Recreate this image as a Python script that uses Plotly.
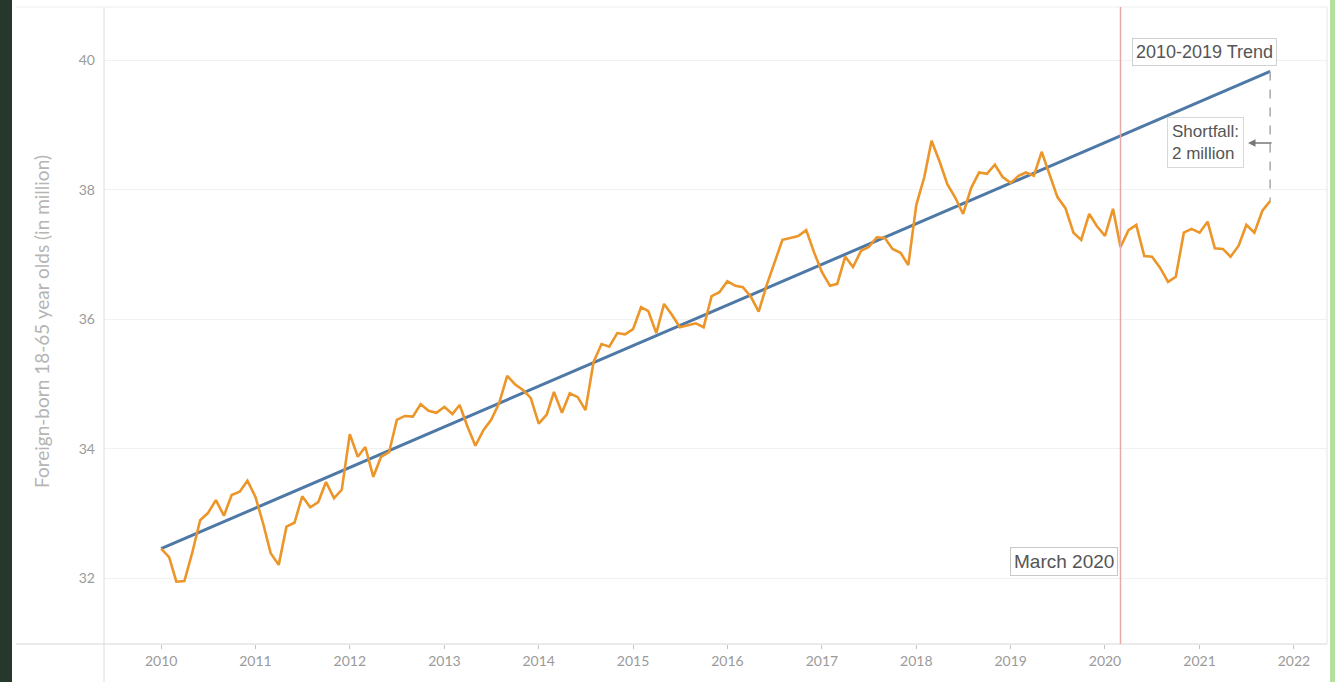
import pandas as pd
import plotly.graph_objects as go

# ---- data ----
start_month = "2010-01-01"
foreign_born = [
    32.46, 32.33, 31.95, 31.96, 32.39, 32.90, 33.01, 33.21, 32.97, 33.29, 33.34, 33.51,
    33.26, 32.83, 32.39, 32.21, 32.80, 32.86, 33.27, 33.10, 33.18, 33.49, 33.24, 33.37,
    34.23, 33.88, 34.03, 33.57, 33.88, 33.95, 34.45, 34.51, 34.50, 34.69, 34.59, 34.56,
    34.65, 34.54, 34.68, 34.34, 34.05, 34.29, 34.45, 34.71, 35.13, 35.00, 34.91, 34.79,
    34.39, 34.53, 34.88, 34.56, 34.86, 34.80, 34.60, 35.34, 35.62, 35.58, 35.79, 35.77,
    35.85, 36.19, 36.13, 35.79, 36.24, 36.07, 35.88, 35.91, 35.94, 35.88, 36.36, 36.42,
    36.59, 36.52, 36.50, 36.35, 36.12, 36.53, 36.86, 37.23, 37.26, 37.29, 37.38, 37.04,
    36.73, 36.52, 36.55, 36.97, 36.81, 37.06, 37.12, 37.27, 37.26, 37.09, 37.03, 36.84,
    37.77, 38.20, 38.76, 38.44, 38.09, 37.88, 37.63, 38.03, 38.27, 38.25, 38.39, 38.20,
    38.11, 38.22, 38.27, 38.22, 38.59, 38.23, 37.89, 37.72, 37.34, 37.23, 37.63, 37.44,
    37.29, 37.71, 37.12, 37.38, 37.46, 36.98, 36.97, 36.80, 36.58, 36.66, 37.34, 37.40,
    37.34, 37.51, 37.10, 37.09, 36.97, 37.14, 37.46, 37.34, 37.68, 37.83,
]
months = pd.date_range(start_month, periods=len(foreign_born), freq="MS")
trend_dates = [months[0], months[-1]]
trend_values = [32.46, 39.83]
march_2020 = "2020-03-01"
y_ticks = [32, 34, 36, 38, 40]
x_tick_years = [str(y) for y in range(2010, 2023)]
y_title = "Foreign-born 18-65 year olds (in million)"

# ---- layout geometry ----
W, H = 1335, 682
L, R, T, B = 104, 8, 7, 38
PW, PH = W - L - R, H - T - B


def px(x):
    return (x - L) / PW


def py(y):
    return (H - B - y) / PH


fig = go.Figure()

fig.add_trace(go.Scatter(
    x=trend_dates, y=trend_values, mode="lines",
    line=dict(color="#4e79a7", width=3), hoverinfo="skip", showlegend=False,
))
fig.add_trace(go.Scatter(
    x=months, y=foreign_born, mode="lines",
    line=dict(color="#ec9528", width=2.6), showlegend=False,
))

shapes = [
    # dark frame on left, light green strip on right
    dict(type="rect", xref="paper", yref="paper", x0=px(0), x1=px(12), y0=py(H), y1=py(0),
         fillcolor="#26372c", line_width=0, layer="below"),
    dict(type="rect", xref="paper", yref="paper", x0=px(1330), x1=px(1335), y0=py(H), y1=py(0),
         fillcolor="#b6e09f", line_width=0, layer="below"),
    # pane dividers
    dict(type="line", xref="paper", yref="paper", x0=px(L), x1=px(L), y0=py(H), y1=py(T),
         line=dict(color="#dcdcdc", width=1)),
    dict(type="line", xref="paper", yref="paper", x0=px(16), x1=px(W - R), y0=py(H - B), y1=py(H - B),
         line=dict(color="#d6d6d6", width=1)),
    dict(type="line", xref="paper", yref="paper", x0=px(16), x1=px(W - R), y0=py(T), y1=py(T),
         line=dict(color="#ededed", width=1)),
    dict(type="line", xref="paper", yref="paper", x0=px(W - R), x1=px(W - R), y0=py(H - B), y1=py(T),
         line=dict(color="#e6e6e6", width=1)),
    # March 2020 marker
    dict(type="line", xref="x", yref="paper", x0=march_2020, x1=march_2020, y0=0, y1=1,
         line=dict(color="#e6a9a9", width=1.5)),
    # shortfall dashed line
    dict(type="line", xref="x", yref="y", x0=months[-1], x1=months[-1],
         y0=trend_values[-1], y1=foreign_born[-1],
         line=dict(color="#a8a8a8", width=1.5, dash="dash")),
]

ann_font = dict(family="Liberation Sans, Arial, sans-serif", color="#555555")
common = dict(xref="paper", yref="paper", xanchor="center", yanchor="middle")
annotations = [
    dict(text=y_title, x=px(41), y=py(322), showarrow=False, textangle=-90,
         font=dict(family="Lato, sans-serif", size=19, color="#b5b5b5"), **common),
    dict(text="2010-2019 Trend", x=px(1204), y=py(52),
         showarrow=False, font=dict(ann_font, size=18), bordercolor="#d0d0d0",
         borderwidth=1, borderpad=3, bgcolor="white", **common),
    dict(text="Shortfall:<br>2 million", x=px(1205), y=py(143),
         showarrow=False, align="left", font=dict(ann_font, size=17), bordercolor="#d8d8d8",
         borderwidth=1, borderpad=4, bgcolor="white", **common),
    dict(text="March 2020", x=px(1064), y=py(561),
         showarrow=False, font=dict(ann_font, size=19), bordercolor="#c8c8c8",
         borderwidth=1, borderpad=3, bgcolor="white", **common),
    dict(text="", x=px(1248), y=py(143), ax=25, ay=0, xref="paper", yref="paper",
         showarrow=True, arrowhead=2, arrowsize=1, arrowwidth=1.5, arrowcolor="#777777"),
]

fig.update_layout(
    width=W, height=H,
    margin=dict(l=L, r=R, t=T, b=B),
    paper_bgcolor="white", plot_bgcolor="white",
    shapes=shapes, annotations=annotations,
    font=dict(family="Lato, sans-serif"),
)
fig.update_xaxes(
    type="date", range=["2009-05-25", "2022-05-09"],
    tickvals=[f"{y}-01-01" for y in x_tick_years], ticktext=x_tick_years,
    ticks="outside", ticklen=4, tickcolor="#c4c4c4", tickwidth=1,
    tickfont=dict(size=14, color="#9a9a9a"),
    showgrid=False, zeroline=False, showline=False,
)
fig.update_yaxes(
    range=[30.988, 40.826], tickvals=y_ticks,
    ticks="", ticklabelstandoff=8,
    tickfont=dict(size=14, color="#9a9a9a"),
    showgrid=True, gridcolor="#f1f1f1", gridwidth=1, zeroline=False, showline=False,
)

fig.write_html(
    "out.html",
    config={"displayModeBar": False},
    post_script="document.body.style.margin='0';document.body.style.overflow='hidden';",
)
